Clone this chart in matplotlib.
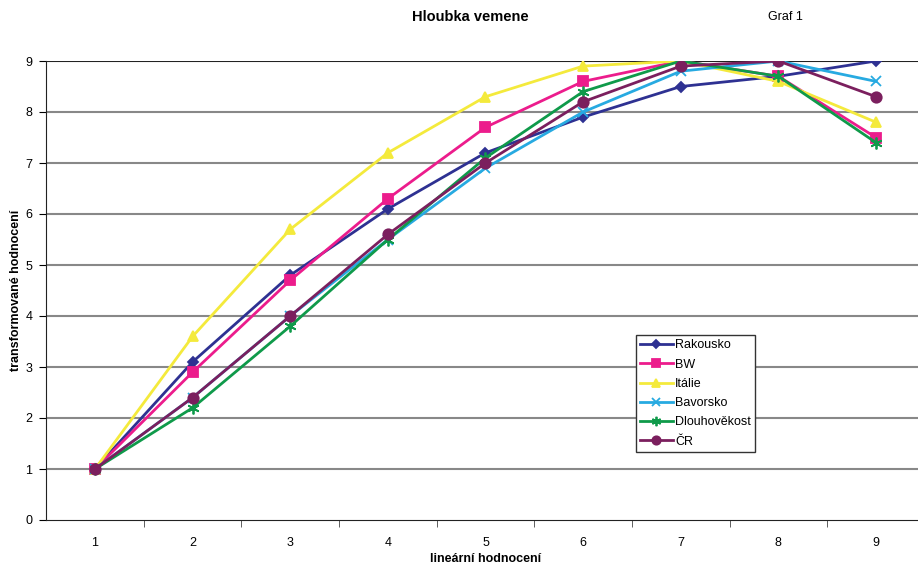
import matplotlib.pyplot as plt
from matplotlib.ticker import FixedLocator

plt.rcParams['font.family'] = ['Liberation Sans', 'DejaVu Sans']

categories = [1, 2, 3, 4, 5, 6, 7, 8, 9]

rakousko = [1, 3.1, 4.8, 6.1, 7.2, 7.9, 8.5, 8.7, 9.0]
bw = [1, 2.9, 4.7, 6.3, 7.7, 8.6, 9.0, 8.7, 7.5]
italie = [1, 3.6, 5.7, 7.2, 8.3, 8.9, 9.0, 8.6, 7.8]
bavorsko = [1, 2.4, 4.0, 5.5, 6.9, 8.0, 8.8, 9.0, 8.6]
dlouhovekost = [1, 2.2, 3.8, 5.5, 7.1, 8.4, 9.0, 8.7, 7.4]
cr = [1, 2.4, 4.0, 5.6, 7.0, 8.2, 8.9, 9.0, 8.3]

series = [
    ('Rakousko', rakousko, '#2e3192', 'D', 5.5),
    ('BW', bw, '#ec1c8c', 's', 6.5),
    ('Itálie', italie, '#f4ea3c', '^', 7.5),
    ('Bavorsko', bavorsko, '#27aae1', 'x', 7.5),
    ('Dlouhověkost', dlouhovekost, '#0f9a4a', (6, 2, 0), 8.5),
    ('ČR', cr, '#7b1f5e', 'o', 7.5),
]

fig = plt.figure(figsize=(9.18, 5.67), dpi=100)
ax = fig.add_axes([46.2 / 918, 1 - 520 / 567, (924.8 - 46.2) / 918, (520 - 61) / 567])

for name, vals, col, mk, ms in series:
    ax.plot(categories, vals, color=col, lw=2, marker=mk, ms=ms,
            mfc=col, mec=col, mew=1.3, label=name, zorder=3)

ax.set_xlim(0.5, 9.5)
ax.set_ylim(0, 9)
ax.set_yticks(range(10))
ax.set_xticks(categories)
ax.xaxis.set_minor_locator(FixedLocator([c + 0.5 for c in categories[:-1]]))
ax.tick_params(axis='x', which='major', length=0, pad=12, labelsize=9)
ax.tick_params(axis='x', which='minor', length=5, direction='out', color='#444444')
ax.tick_params(axis='y', length=5, direction='out', labelsize=9, pad=5)

for y in range(1, 9):
    ax.axhline(y, color='#888888', lw=1.5, zorder=1)
ax.axhline(9, color='#222222', lw=1.5, zorder=1)

for side in ['top', 'right']:
    ax.spines[side].set_visible(False)
ax.spines['left'].set_color('#222222')
ax.spines['bottom'].set_color('#222222')

ax.set_xlabel('lineární hodnocení', fontsize=9, fontweight='bold', labelpad=3)
fig.text(16 / 918, 1 - 290 / 567, 'transformované hodnocení', rotation=90,
         ha='center', va='center', fontsize=9, fontweight='bold')

fig.text(470 / 918, 1 - 17 / 567, 'Hloubka vemene', ha='center', va='center',
         fontsize=10.5, fontweight='bold')
fig.text(785 / 918, 1 - 17 / 567, 'Graf 1', ha='center', va='center', fontsize=9)

leg = ax.legend(loc='upper left', bbox_to_anchor=(0.671, 0.403), fontsize=9,
                frameon=True, fancybox=False, edgecolor='#333333', framealpha=1,
                handlelength=2.6, handletextpad=0.2, labelspacing=0.58,
                borderpad=0.35, borderaxespad=0, markerscale=0.8)
leg.get_frame().set_linewidth(1)

fig.savefig('out.png', dpi=100)
